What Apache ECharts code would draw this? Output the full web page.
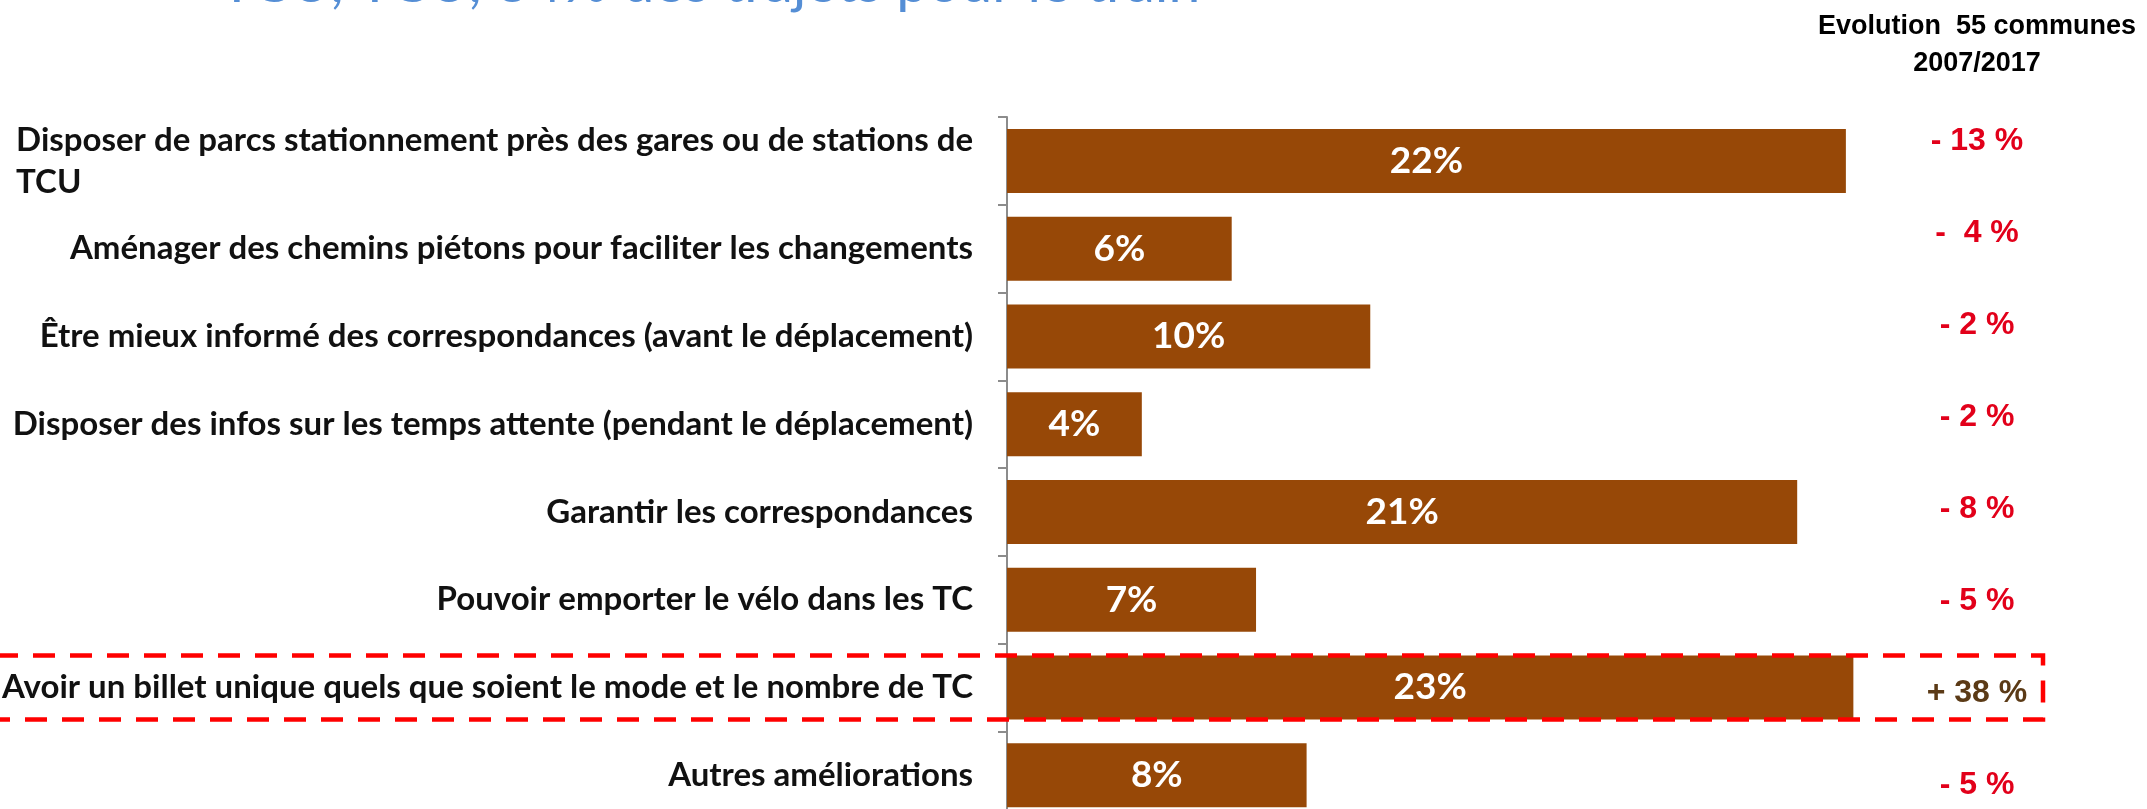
<!DOCTYPE html>
<html>
<head>
<meta charset="utf-8">
<script src="https://cdn.jsdelivr.net/npm/echarts@6/dist/echarts.min.js"></script>
<style>
html, body {margin: 0; padding: 0; background: #fff;}
#main {width: 2147px; height: 809px;}
</style>
</head>
<body>
<div id="main"></div>
<script>
/* Data. */
var categories = [
    'Disposer de parcs stationnement près des gares ou de stations de\nTCU',
    'Aménager des chemins piétons pour faciliter les changements',
    'Être mieux informé des correspondances (avant le déplacement)',
    'Disposer des infos sur les temps attente (pendant le déplacement)',
    'Garantir les correspondances',
    'Pouvoir emporter le vélo dans les TC',
    'Avoir un billet unique quels que soient le mode et le nombre de TC',
    'Autres améliorations'
];
var shares     = [22.4, 6.0, 9.7, 3.6, 21.1, 6.65, 22.6, 8.0];
var evolutions = ['- 13 %', '-  4 %', '- 2 %', '- 2 %', '- 8 %', '- 5 %', '+ 38 %', '- 5 %'];
var highlightIndex = 6;

var titleText  = 'TCU, TCU, 34% des trajets pour le train';
var headerText = 'Evolution  55 communes\n2007/2017';

var barColor   = '#974807';
var axisColor  = '#8c8c8c';
var labelFont  = 'Lato, "Open Sans", sans-serif';
var arialFont  = '"Liberation Sans", Arial, sans-serif';

var chart = echarts.init(document.getElementById('main'), null, {renderer: 'canvas'});

var option = {
    animation: false,
    backgroundColor: '#fff',
    grid: [
        {left: 1007, top: 117, width: 1123.5, height: 702, containLabel: false, outerBoundsMode: 'none'},
        {left: 2047, top: 95, width: 10, height: 736, containLabel: false, outerBoundsMode: 'none'}
    ],
    xAxis: [
        {type: 'value', gridIndex: 0, min: 0, max: 30, show: false},
        {type: 'value', gridIndex: 1, min: 0, max: 1, show: false}
    ],
    yAxis: [
        {
            type: 'category',
            gridIndex: 0,
            inverse: true,
            data: categories,
            axisLine: {show: true, lineStyle: {color: axisColor, width: 2}},
            axisTick: {show: true, length: 9, lineStyle: {color: axisColor, width: 2}},
            splitLine: {show: false},
            axisLabel: {
                margin: 34,
                formatter: function(value)
                {
                    return value.split('\n').map(function(line){ return '{a|' + line + '}'; }).join('\n');
                },
                rich: {
                    a: {
                        align: 'left',
                        color: '#111',
                        fontFamily: labelFont,
                        fontWeight: 'bold',
                        fontSize: 33,
                        lineHeight: 42
                    }
                }
            }
        },
        {
            type: 'category',
            gridIndex: 1,
            inverse: true,
            data: evolutions,
            axisLine: {show: false},
            axisTick: {show: false},
            splitLine: {show: false},
            axisLabel: {
                margin: 0,
                formatter: function(value)
                {
                    return (value.charAt(0) == '+' ? '{up|' : '{down|') + value + '}';
                },
                rich: {
                    down: {width: 140, align: 'center', color: '#e2001a', fontFamily: arialFont, fontWeight: 'bold', fontSize: 32},
                    up:   {width: 140, align: 'center', color: '#5b3a16', fontFamily: arialFont, fontWeight: 'bold', fontSize: 32}
                }
            }
        }
    ],
    series: [
        {
            type: 'bar',
            xAxisIndex: 0,
            yAxisIndex: 0,
            data: shares,
            barWidth: 64,
            itemStyle: {color: barColor},
            label: {
                show: true,
                position: 'inside',
                color: '#fff',
                fontFamily: labelFont,
                fontWeight: 'bold',
                fontSize: 37,
                formatter: function(p){ return Math.round(p.value) + '%'; }
            }
        }
    ],
    graphic: [
        {
            id: 'title',
            type: 'text',
            x: 220,
            y: 12,
            style: {
                text: titleText,
                fill: '#558ed5',
                font: '57px Lato, "Open Sans", sans-serif',
                textAlign: 'left',
                textVerticalAlign: 'bottom'
            }
        },
        {
            id: 'header',
            type: 'text',
            x: 1977,
            y: 45,
            style: {
                text: headerText,
                fill: '#000',
                font: 'bold 27px ' + arialFont,
                lineHeight: 37,
                textAlign: 'center',
                textVerticalAlign: 'middle'
            }
        }
    ]
};
chart.setOption(option);

/* Dashed frame around the highlighted row. */
var rowCenter = chart.convertToPixel({yAxisIndex: 0}, highlightIndex);
var frameHeight = 64;
chart.setOption({
    graphic: [
        {
            id: 'frame',
            type: 'rect',
            z: 100,
            shape: {x: -4, y: rowCenter - frameHeight / 2, width: 2047, height: frameHeight},
            style: {fill: 'none', stroke: '#ff0000', lineWidth: 4.5, lineDash: [22, 15]}
        }
    ]
});
</script>
</body>
</html>
